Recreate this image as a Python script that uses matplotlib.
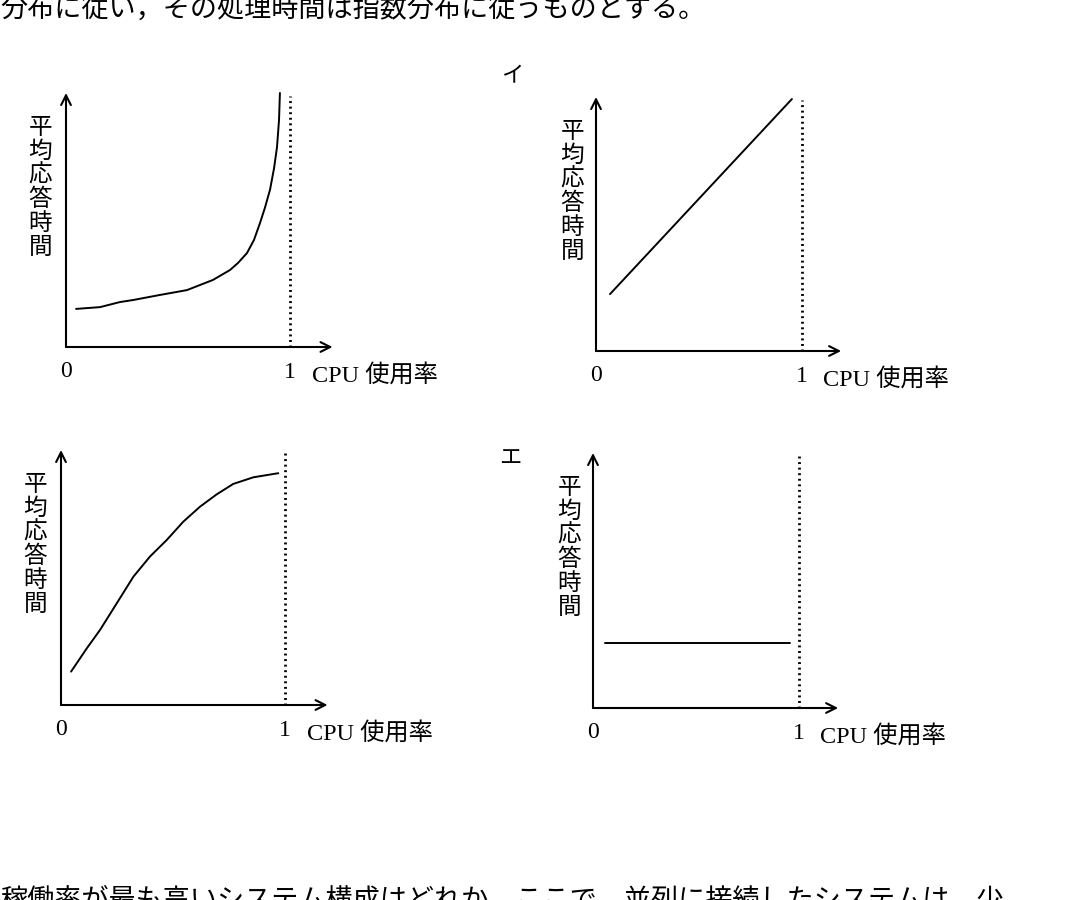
import matplotlib
matplotlib.use("Agg")
import matplotlib.pyplot as plt

# Four sketches of mean response time vs CPU utilisation (exam figure)

plt.rcParams["font.family"] = ["Liberation Serif", "Noto Sans CJK JP"]

W, H = 1080, 900

header = "分布に従い，その処理時間は指数分布に従うものとする。"
footer = "稼働率が最も高いシステム構成はどれか。ここで，並列に接続したシステムは，少"
y_label = "平均応答時間"
x_label = "CPU 使用率"
tick_labels = ["0", "1"]
panel_marks = ["", "イ", "", "エ"]

# curve ア : rises sharply near 1
util_a = [0.045, 0.152, 0.241, 0.30, 0.420, 0.54, 0.598, 0.656, 0.732, 0.768,
          0.808, 0.839, 0.866, 0.888, 0.911, 0.929, 0.942, 0.951, 0.955]
resp_a = [0.150, 0.157, 0.177, 0.185, 0.205, 0.224, 0.244, 0.264, 0.303, 0.331,
          0.370, 0.421, 0.488, 0.548, 0.620, 0.705, 0.787, 0.894, 1.0]

# curve イ : straight line
util_b = [0.068, 0.951]
resp_b = [0.224, 0.992]

# curve ウ : saturating
util_c = [0.045, 0.115, 0.174, 0.249, 0.323, 0.397, 0.472, 0.546, 0.621, 0.695,
          0.769, 0.859, 0.970]
resp_c = [0.131, 0.222, 0.294, 0.399, 0.503, 0.582, 0.647, 0.719, 0.778, 0.826,
          0.867, 0.893, 0.909]

# curve エ : constant
util_d = [0.058, 0.954]
resp_d = [0.255, 0.255]

curves = [(util_a, resp_a), (util_b, resp_b), (util_c, resp_c), (util_d, resp_d)]

# origin pixel (x, y from top) and pixels per unit for each panel
panels = [
    (66, 347, 224, 254),
    (596, 351, 206, 254),
    (61, 705, 224, 255),
    (593, 708, 206, 255),
]
# where the panel letter sits, in pixels
mark_px = [None, (512, 76), None, (510, 458)]

XMIN, XMAX, YMIN, YMAX = -0.45, 1.75, -0.3, 1.15

fig = plt.figure(figsize=(W / 100, H / 100), dpi=100)

for (ox, oy, sx, sy), (xs, ys), mark, mpos in zip(panels, curves, panel_marks, mark_px):
    left = (ox + XMIN * sx) / W
    right = (ox + XMAX * sx) / W
    top = 1 - (oy - YMAX * sy) / H
    bottom = 1 - (oy - YMIN * sy) / H
    ax = fig.add_axes([left, bottom, right - left, top - bottom])
    ax.set_xlim(XMIN, XMAX)
    ax.set_ylim(YMIN, YMAX)
    ax.axis("off")

    arrow = dict(arrowstyle="->,head_length=0.7,head_width=0.35", lw=1.5,
                 color="black", shrinkA=0, shrinkB=0)
    ax.annotate("", xy=(0, 1.0), xytext=(0, 0), arrowprops=arrow)
    ax.annotate("", xy=(1.19, 0), xytext=(0, 0), arrowprops=arrow)

    ax.plot([1, 1], [0, 0.99], color="black", lw=2.0, linestyle=(0, (0.7, 1.3)))
    ax.plot(xs, ys, color="black", lw=1.4, solid_capstyle="round",
            solid_joinstyle="round")

    ax.text(0, -0.055, tick_labels[0], ha="center", va="top", fontsize=17)
    ax.text(1, -0.06, tick_labels[1], ha="center", va="top", fontsize=17)
    ax.text(1.10, -0.065, x_label, ha="left", va="top", fontsize=17.5)

    # vertical label, one character per row
    step = 24.0 / sy
    for i, ch in enumerate(y_label):
        ax.text(-0.115, 0.865 - i * step, ch, ha="center", va="center",
                fontsize=17, family=["Noto Sans CJK JP"])

    if mark:
        ax.text((mpos[0] - ox) / sx, (oy - mpos[1]) / sy, mark,
                ha="center", va="center", fontsize=16, family=["Noto Sans CJK JP"])

fig.text(0.0, 1 - 17 / H, header, ha="left", va="baseline", fontsize=19.5,
         family=["Noto Sans CJK JP"])
fig.text(0.0, 1 - 887 / H, footer, ha="left", va="top", fontsize=19.5,
         family=["Noto Sans CJK JP"])

fig.savefig("out.png", dpi=100, facecolor="white")
